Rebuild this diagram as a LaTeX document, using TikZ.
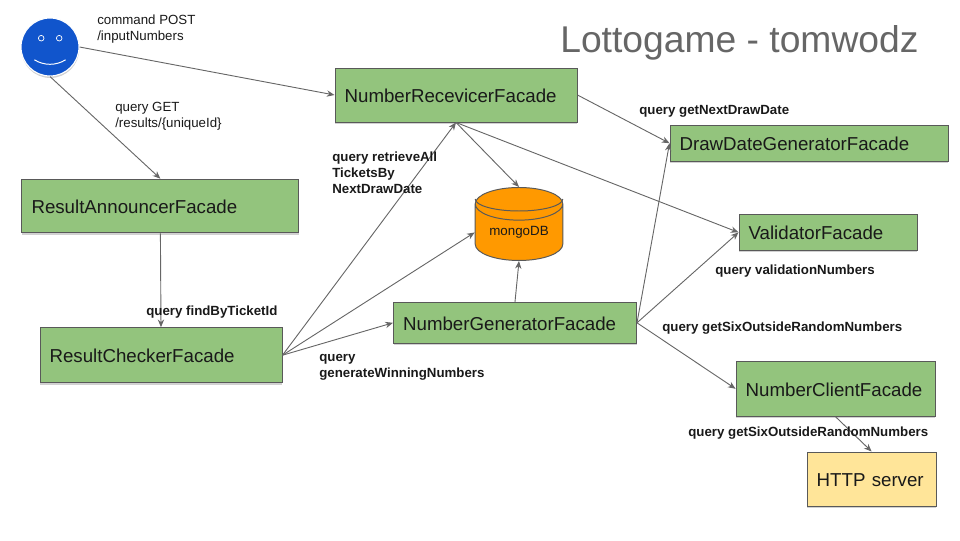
\documentclass[tikz,border=0pt]{standalone}
\usepackage{fontspec}
\setmainfont{Liberation Sans}
\usetikzlibrary{arrows.meta,shadows,shapes.geometric}
\definecolor{facadegreen}{HTML}{93C47D}
\definecolor{serveryellow}{HTML}{FFE599}
\definecolor{dborange}{HTML}{FF9900}
\definecolor{actorblue}{HTML}{1155CC}
\definecolor{linegray}{HTML}{595959}
\definecolor{arrowgray}{HTML}{666666}
\tikzset{
  softshadow/.style={drop shadow={shadow xshift=0.2pt,shadow yshift=-1.4pt,opacity=.18,fill=black}},
  facade/.style n args={2}{draw=linegray,fill=facadegreen,line width=0.7pt,softshadow,
    minimum width=#1cm,minimum height=#2cm,text width=#1cm-0.48cm,inner xsep=0.24cm,inner ysep=0pt,
    text height=10.6pt,text depth=0pt,
    align=left,font=\fontsize{13.3}{15}\selectfont,text=black!90},
  server/.style n args={2}{facade={#1}{#2},fill=serveryellow},
  note/.style={inner sep=0pt,anchor=west,align=left,font=\fontsize{9.45}{11.3}\selectfont,text=black!90},
  boldnote/.style={note,font=\fontsize{9.45}{11.3}\selectfont\bfseries},
  link/.style={draw=arrowgray,line width=0.65pt,-{Stealth[length=5.5pt,width=4.5pt]}}
}
\begin{document}
\begin{tikzpicture}
\useasboundingbox (0,0) rectangle (24,13.5);
\node[inner sep=0pt,anchor=west,text=black!60,font=\fontsize{26.5}{30}\selectfont] (title) at (14,12.44) {Lottogame - tomwodz};

\node[circle,fill=actorblue,draw=white,line width=0.8pt,minimum size=1.45cm,inner sep=0pt,softshadow] (user) at (1.25,12.325) {};
\draw[white,line width=0.5pt] ([shift={(-0.22,0.22)}]user.center) circle (0.07);
\draw[white,line width=0.5pt] ([shift={(0.23,0.22)}]user.center) circle (0.07);
\draw[white,line width=0.7pt] ([shift={(-0.39,-0.32)}]user.center) .. controls ([shift={(-0.15,-0.47)}]user.center) and ([shift={(0.15,-0.47)}]user.center) .. ([shift={(0.39,-0.32)}]user.center);

\node[facade={6.925}{1.34}] (announcer) at (4.01,8.35) {ResultAnnouncerFacade};
\node[facade={6.05}{1.35}] (receiver) at (11.4,11.125) {NumberRecevicerFacade};
\node[facade={6.95}{0.9}] (drawdate) at (20.225,9.92) {DrawDateGeneratorFacade};
\node[facade={4.45}{0.9}] (validator) at (20.7,7.69) {ValidatorFacade};
\node[facade={6.05}{1.375}] (checker) at (4.025,4.62) {ResultCheckerFacade};
\node[facade={6.075}{1.025}] (generator) at (12.875,5.43) {NumberGeneratorFacade};
\node[facade={4.975}{1.375}] (client) at (20.89,3.78) {NumberClientFacade};
\node[server={3.225}{1.35}] (http) at (21.79,1.525) {HTTP server};
\node[cylinder,shape border rotate=90,aspect=0.55,draw=linegray,fill=dborange,line width=0.7pt,minimum width=2.19cm,minimum height=1.825cm,inner sep=0pt,font=\fontsize{9.5}{11}\selectfont,text=black!90] (mongo) at (12.975,7.69) {mongoDB};
\draw[linegray,line width=0.7pt] ([shift={(-1.095,-0.3)}]mongo.north) arc[start angle=180,end angle=360,x radius=1.095,y radius=0.3];

\draw[link] (user.east) -- (receiver.west);
\draw[link] (user.south) -- (announcer.north);
\draw[link] (announcer.south) -- (checker.north);
\draw[link] (checker.east) -- (receiver.south);
\draw[link] (checker.east) -- (mongo.west);
\draw[link] (checker.east) -- (generator.west);
\draw[link] (generator.north) -- (mongo.south);
\draw[link] (receiver.south) -- (mongo.north);
\draw[link] (receiver.south) -- (validator.west);
\draw[link] (receiver.east) -- (drawdate.west);
\draw[link] (generator.east) -- (drawdate.west);
\draw[link] (generator.east) -- (validator.west);
\draw[link] (generator.east) -- (client.west);
\draw[link] (client.south) -- (http.north);

\node[note] (postnote) at (2.425,12.78) {command POST\\/inputNumbers};
\node[note] (getnote) at (2.875,10.6) {query GET\\/results/\{uniqueId\}};
\node[boldnote] (nextnote) at (15.975,10.72) {query getNextDrawDate};
\node[boldnote] (retrievenote) at (8.3,9.18) {query retrieveAll\\TicketsBy\\NextDrawDate};
\node[boldnote] (validnote) at (17.875,6.72) {query validationNumbers};
\node[boldnote] (sixnote) at (16.55,5.3) {query getSixOutsideRandomNumbers};
\node[boldnote] (sixhttpnote) at (17.2,2.67) {query getSixOutsideRandomNumbers};
\node[boldnote] (findnote) at (3.65,5.7) {query findByTicketId};
\node[boldnote] (winnote) at (7.975,4.32) {query\\generateWinningNumbers};
\end{tikzpicture}
\end{document}
